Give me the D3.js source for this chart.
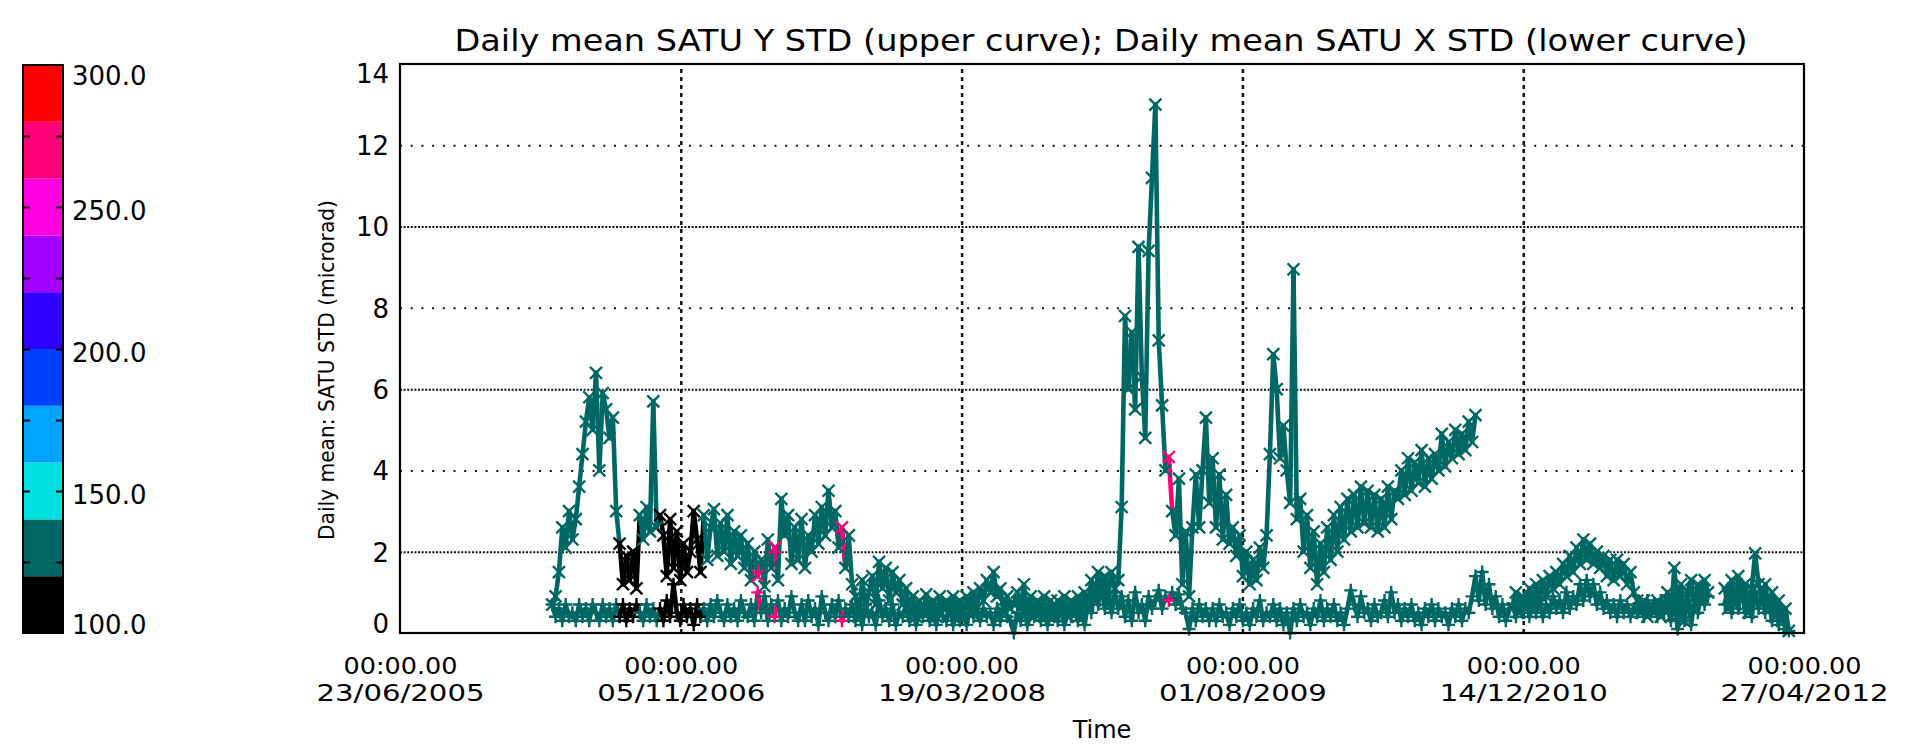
<!DOCTYPE html>
<html>
<head>
<meta charset="utf-8">
<script src="https://cdn.jsdelivr.net/npm/d3@7"></script>
<style>
  body { margin: 0; background: #fff; }
  svg { display: block; }
  text { font-family: "DejaVu Sans", sans-serif; fill: #000; }
</style>
</head>
<body>
<svg id="chart" width="1907" height="754"></svg>
<script>
// Daily mean STD of the SATU tiltmeter, one sample every 6 days from firstDay.
const firstDay = "2006-03-21";
const stepDays = 6;

// upper curve (Y STD), null = no data
const satuY = [
  0.7, 0.9, 1.5, 2.6, 2.1, 3.0, 2.3, 2.8, 3.6, 4.4, 5.2, 5.8, 5.0, 6.4, 4.0, 5.9, 5.5, 4.8, 5.3, 3.0,
  2.2, 1.2, 1.9, 1.3, 2.0, 1.1,
  2.9, 2.3, 3.1, 2.5, 5.7, 2.6,
  2.9, 2.4, 1.4, 2.8, 1.6, 2.5, 1.3, 2.2, 1.5, 2.0, 3.0, 2.3, 1.5,
  2.9, 1.8, 2.6, 3.05, 1.9, 2.7, 2.0, 2.9, 1.7, 2.5, 1.9, 2.4, 1.6,
  2.2, 1.3, 2.0, 1.4, 1.8, 1.15, 2.3, 1.6, 2.1, 1.3,
  3.3, 2.4, 2.9,
  1.7, 2.6, 1.8, 2.8, 1.6, 2.4, 2.0,
  2.9, 2.2, 3.1, 2.4, 3.5, 2.6, 3.0, 2.1,
  2.6, 1.6, 2.4, 1.2,
  0.9, 0.4, 1.3, 0.6, 1.0,
  1.4, 0.7, 1.75, 1.1, 1.6, 0.8, 1.5, 1.0, 1.3, 0.7, 1.1,
  0.6, 0.9, 0.4, 0.8, 0.5, 0.95, 0.6, 0.8, 0.4, 0.9, 0.6, 0.8, 0.5, 0.9, 0.6, 0.8, 0.4, 0.9, 0.7, 1.0, 0.6, 1.1, 0.8, 1.3,
  1.0, 1.5, 0.9,
  1.1, 0.5, 0.9, 0.6, 0.7, 1.0, 0.6,
  1.2, 0.5, 0.9, 0.4, 0.8, 0.5, 0.9, 0.5, 0.8, 0.4, 0.8, 0.5, 0.9, 0.4, 0.8, 0.5, 0.9, 0.6, 1.0, 0.7,
  1.3, 0.8, 1.5, 1.0, 1.4, 0.9, 1.5, 1.1, 1.3,
  3.1, 7.8,
  6.0, 7.4, 5.5, 9.5, 6.3, 4.8, 9.4, 11.2, 13.0, 7.2,
  5.6, 4.0, 4.33,
  3.0, 2.4, 3.8, 1.2, 2.5, 0.9,
  2.6, 3.9, 2.6, 4.0, 5.3, 3.2,
  4.3, 2.6, 3.9, 2.3, 3.4, 2.2,
  2.6, 1.9, 2.4, 1.4,
  2.0, 1.2, 1.8, 1.3, 2.1, 1.6,
  2.4, 4.4, 6.86, 6.0, 4.3, 5.1, 4.0,
  3.2, 8.95, 2.8,
  3.3, 2.0, 2.9, 1.6, 2.5, 1.2, 2.2, 1.5, 2.6,
  1.8, 2.9, 2.0, 3.1, 2.3, 3.3, 2.5, 3.4, 2.6, 3.6, 2.7, 3.5,
  2.6, 3.4, 2.5, 3.3, 2.6, 3.6, 2.8, 3.5,
  3.3, 4.0, 3.4, 4.3, 3.5, 4.2, 3.7, 4.5, 3.6, 4.3, 3.8, 4.4,
  4.0, 4.9, 4.1, 4.7, 4.3, 5.0, 4.4, 4.9, 4.5, 5.2, 4.7, 5.36,
  null, null, null, null, null, null, null, null, null, null,
  0.6, 1.0, 0.5, 0.9, 0.6, 1.1, 0.7, 1.2, 0.8, 1.3, 0.9, 1.4,
  1.1, 1.5, 1.2, 1.7, 1.4, 1.9, 1.5, 2.1, 1.7, 2.3,
  1.8, 2.2, 1.7, 2.0, 1.6,
  1.9, 1.4, 1.8, 1.3, 1.8, 1.4, 1.7, 1.2, 1.5,
  1.0, 0.8,
  0.5, 0.8, 0.4, 0.7, 0.5, 0.8, 0.4, 0.7,
  1.0, 0.4, 1.6, 0.6, 1.2, 0.3, 1.0, 1.3, 0.6,
  1.2, 0.9, 1.3, 1.0,
  null, null, null, null,
  1.1, 0.6, 1.3, 0.7, 1.4, 0.8, 1.2, 0.5, 1.1,
  1.96, 1.2,
  0.9, 1.2, 0.6, 1.0, 0.4, 0.8, 0.3, 0.6, 0.05
];

// lower curve (X STD)
const satuX = [
  0.7, 0.4, 0.6, 0.3, 0.7, 0.4, 0.5, 0.3, 0.7, 0.4, 0.6, 0.3, 0.7, 0.5, 0.3, 0.7, 0.4, 0.6, 0.3, 0.7,
  0.4, 0.7, 0.3, 0.6, 0.4, 0.7,
  0.5, 0.3, 0.7, 0.4, 0.6, 0.3,
  0.6, 0.3, 0.8, 0.4, 1.2, 0.5, 0.3, 0.7, 0.4, 0.6, 0.2, 0.7, 0.4,
  0.6, 0.3, 0.7, 0.4, 0.8, 0.5, 0.3, 0.7, 0.4, 0.6, 0.3, 0.8, 0.5, 0.4, 0.7, 0.3, 1.0,
  0.5, 0.9, 0.3, 0.7, 0.4, 0.8, 0.3, 0.6, 0.4, 0.9, 0.5, 0.3,
  0.7, 0.3, 0.8, 0.4, 0.6, 0.2, 0.9, 0.5, 0.3, 0.7, 0.4, 0.8, 0.3, 0.6, 0.4, 0.7,
  0.3, 0.6, 0.2, 0.7, 0.4, 0.5, 0.2, 0.8, 0.4, 0.6, 0.3, 0.7, 0.2, 0.5, 0.4, 0.7, 0.3, 0.6, 0.2, 0.5,
  0.4, 0.7, 0.3, 0.5, 0.2, 0.6, 0.4, 0.3, 0.7, 0.2, 0.5, 0.3, 0.6, 0.2, 0.7, 0.4, 0.5, 0.3, 0.6, 0.4,
  0.5, 0.2, 0.6, 0.3, 0.7, 0.4, 0.3, 0.0, 0.5, 0.3, 0.6, 0.2, 0.5, 0.4, 0.7, 0.3, 0.5, 0.2, 0.6, 0.4,
  0.3, 0.7, 0.2, 0.5, 0.4, 0.6, 0.3, 0.5, 0.2, 0.7, 0.5, 1.1, 0.7, 1.2, 0.6, 0.9, 0.5, 1.0, 0.6,
  0.9, 0.4, 0.8, 0.3, 1.0, 0.5, 0.7, 0.3, 0.9, 0.6,
  0.8, 1.05, 0.6, 0.9, 0.8, 1.0, 0.7, 0.95, 0.6,
  0.5, 0.1, 0.6, 0.3, 0.7, 0.4, 0.6, 0.3,
  0.6, 0.3, 0.7, 0.4, 0.5, 0.2, 0.6, 0.4, 0.7, 0.3, 0.5, 0.2, 0.6, 0.4, 0.8, 0.3, 0.5, 0.4, 0.7, 0.3,
  0.6, 0.2, 0.5, 0.0, 0.6, 0.3, 0.7, 0.4, 0.5, 0.2, 0.6, 0.4, 0.8, 0.3, 0.6, 0.4, 0.7, 0.3, 0.5, 0.2,
  0.6, 1.05, 0.7, 0.4, 0.9, 0.5, 0.6, 0.3, 0.7, 0.4,
  0.5, 0.8, 0.4, 1.0, 0.5, 0.7, 0.3, 0.6, 0.4, 0.7, 0.3, 0.5, 0.2, 0.6, 0.4, 0.7, 0.3, 0.6, 0.4, 0.5,
  0.2, 0.6, 0.4, 0.7, 0.3, 0.6, 0.5,
  0.9, 1.4, 0.8, 1.5, 0.7, 1.2, 0.6, 0.9,
  0.4, 0.7, 0.3, 0.6,
  0.7, 0.4, 0.8, 0.5, 0.9, 0.4, 0.7, 0.5, 0.8, 0.4, 0.7, 0.5, 0.9, 0.6, 0.8, 0.5, 1.0, 0.6, 0.9, 0.7,
  1.2, 0.8, 1.3, 0.9, 1.2, 0.7, 1.0, 0.6, 0.8, 0.5, 0.7, 0.4, 0.8, 0.5, 0.7, 0.4, 0.6, 0.5, 0.7,
  0.4, 0.8, 0.5, 0.7, 0.4, 0.8, 0.5, 0.6,
  0.3, 0.9, 0.1, 0.7, 0.3, 1.0, 0.2, 0.8, 0.5, 1.0, 0.7, 0.9,
  null, null, null, null,
  0.7, 1.1, 0.5, 0.9, 0.6, 1.2, 0.5, 0.8, 0.4, 1.0, 0.6, 0.9, 0.5, 0.8, 0.3, 0.7, 0.2, 0.5, 0.1, 0.05
];

// third variable used for the point colours (default 130 = teal band)
const colourRuns = [
  ["2006-07-19", "2006-08-18", 110],
  ["2006-09-29", "2006-12-10", 110],
  ["2007-03-22", "2007-03-22", 270],
  ["2007-04-21", "2007-04-21", 270],
  ["2007-08-19", "2007-08-19", 270],
  ["2009-03-23", "2009-03-23", 270]
];
const defaultTemp = 130;

const timeTicks = ["2005-06-23", "2006-11-05", "2008-03-19", "2009-08-01", "2010-12-14", "2012-04-27"];
const yTicks = [0, 2, 4, 6, 8, 10, 12, 14];

const bandColours = ["#000000", "#006864", "#00e0e0", "#00a4ff", "#0040ff",
                     "#3000ff", "#a400ff", "#ff00e0", "#ff0078", "#ff0000"];
const barLabels = [100, 150, 200, 250, 300];
const barMinor = [125, 150, 175, 200, 225, 250, 275];

const titleText = "Daily mean SATU Y STD (upper curve); Daily mean SATU X STD (lower curve)";
const yTitle = "Daily mean: SATU STD (microrad)";

/* ---------------------------------------------------------------------- */
const parse = d3.utcParse("%Y-%m-%d");
const svg = d3.select("#chart");
const M = { left: 400, right: 1804, top: 64, bottom: 633 };
const W = M.right - M.left, H = M.bottom - M.top;
const FS = 26;

const tickDates = timeTicks.map(parse);
const x = d3.scaleUtc().domain([tickDates[0], tickDates[tickDates.length - 1]]).range([M.left, M.right]);
const y = d3.scaleLinear().domain([0, 14]).range([M.bottom, M.top]);
const colour = d3.scaleQuantize().domain([100, 300]).range(bandColours);

const start = parse(firstDay);
const days = satuY.map((_, i) => d3.utcDay.offset(start, i * stepDays));
const runs = colourRuns.map(([a, b, v]) => [parse(a), parse(b), v]);
const tempOf = t => {
  const r = runs.find(([a, b]) => t >= a && t <= b);
  return r ? r[2] : defaultTemp;
};

// grid
const hg = svg.append("g").attr("transform", `translate(${M.left},0)`)
  .call(d3.axisLeft(y).tickValues(yTicks.filter(v => v > 0 && v < 14)).tickSize(-W).tickFormat(""));
hg.select(".domain").remove();
hg.selectAll("line").attr("stroke", "#111").attr("stroke-width", 2)
  .attr("stroke-dasharray", d => d % 4 === 0 ? "2,8.7" : "2,1.6");

const vg = svg.append("g").attr("transform", `translate(0,${M.bottom})`)
  .call(d3.axisBottom(x).tickValues(tickDates.slice(1, -1)).tickSize(-H).tickFormat(""));
vg.select(".domain").remove();
vg.selectAll("line").attr("stroke", "#111").attr("stroke-width", 2.5).attr("stroke-dasharray", "4,4");

// series: connecting lines + symbols, coloured by the third variable
const xMark = "M-6,-6L6,6M-6,6L6,-6";
const plusMark = "M-6.5,0H6.5M0,-6.5V6.5";
function drawSeries(values, mark) {
  const pts = values.map((v, i) => ({ t: days[i], v, c: colour(tempOf(days[i])) }));
  const g = svg.append("g");
  g.selectAll("line")
    .data(d3.pairs(pts).filter(([a, b]) => a.v != null && b.v != null))
    .join("line")
    .attr("x1", d => x(d[0].t)).attr("y1", d => y(d[0].v))
    .attr("x2", d => x(d[1].t)).attr("y2", d => y(d[1].v))
    .attr("stroke", d => d[0].c).attr("stroke-width", 4.6).attr("stroke-linecap", "round");
  g.selectAll("path")
    .data(pts.filter(p => p.v != null))
    .join("path")
    .attr("d", mark)
    .attr("transform", d => `translate(${x(d.t)},${y(d.v)})`)
    .attr("stroke", d => d.c).attr("stroke-width", 2.4).attr("fill", "none");
}
drawSeries(satuY, xMark);
drawSeries(satuX, plusMark);

// frame
svg.append("rect").attr("x", M.left).attr("y", M.top).attr("width", W).attr("height", H)
  .attr("fill", "none").attr("stroke", "#000").attr("stroke-width", 2.2);

// y labels
const ya = svg.append("g").attr("transform", `translate(${M.left},0)`)
  .call(d3.axisLeft(y).tickValues(yTicks).tickSize(0).tickPadding(11).tickFormat(d3.format("d")));
ya.select(".domain").remove();
ya.selectAll("text").attr("font-size", FS).attr("font-family", null)
  .attr("y", d => d === 14 ? 10 : d === 0 ? -9 : 1);

// x labels (two lines per tick)
const XFS = 23;
const xa = svg.append("g").attr("transform", `translate(0,${M.bottom})`)
  .call(d3.axisBottom(x).tickValues(tickDates).tickSize(0).tickFormat(""));
xa.select(".domain").remove();
xa.selectAll(".tick").each(function (d) {
  const t = d3.select(this);
  t.append("text").attr("y", 41).attr("text-anchor", "middle").attr("font-size", XFS)
    .attr("textLength", 114).attr("lengthAdjust", "spacingAndGlyphs")
    .text(d3.utcFormat("%H:%M.%S")(d));
  t.append("text").attr("y", 68).attr("text-anchor", "middle").attr("font-size", XFS)
    .attr("textLength", 168).attr("lengthAdjust", "spacingAndGlyphs")
    .text(d3.utcFormat("%d/%m/%Y")(d));
});

svg.append("text").attr("x", (M.left + M.right) / 2).attr("y", 738).attr("text-anchor", "middle")
  .attr("font-size", 24).text("Time");

svg.append("text").attr("x", 1101).attr("y", 51).attr("text-anchor", "middle")
  .attr("font-size", 30).attr("textLength", 1293).attr("lengthAdjust", "spacingAndGlyphs")
  .text(titleText);

svg.append("text").attr("transform", `translate(334,370) rotate(-90)`).attr("text-anchor", "middle")
  .attr("font-size", 21).attr("textLength", 340).attr("lengthAdjust", "spacingAndGlyphs")
  .text(yTitle);

// colour bar
const cb = d3.scaleLinear().domain([100, 300]).range([M.bottom, 65]);
const bar = svg.append("g");
bar.selectAll("rect").data(bandColours).join("rect")
  .attr("x", 23).attr("width", 40)
  .attr("y", c => cb(colour.invertExtent(c)[1]))
  .attr("height", c => cb(colour.invertExtent(c)[0]) - cb(colour.invertExtent(c)[1]))
  .attr("fill", c => c);
bar.append("rect").attr("x", 23).attr("y", cb(300)).attr("width", 40).attr("height", cb(100) - cb(300))
  .attr("fill", "none").attr("stroke", "#000").attr("stroke-width", 2);
const bl = bar.append("g").attr("transform", "translate(23,0)")
  .call(d3.axisLeft(cb).tickValues(barMinor).tickSize(-7).tickFormat(""));
const br = bar.append("g").attr("transform", "translate(63,0)")
  .call(d3.axisRight(cb).tickValues(barMinor).tickSize(-7).tickFormat(""));
[bl, br].forEach(a => {
  a.select(".domain").remove();
  a.selectAll("line").attr("stroke", "#000").attr("stroke-width", 2);
});
const bt = bar.append("g").attr("transform", "translate(63,0)")
  .call(d3.axisRight(cb).tickValues(barLabels).tickSize(0).tickPadding(9).tickFormat(d3.format(".1f")));
bt.select(".domain").remove();
bt.selectAll("text").attr("font-size", FS).attr("font-family", null)
  .attr("y", d => d === 300 ? 11 : d === 100 ? -8 : 4);
</script>
</body>
</html>
